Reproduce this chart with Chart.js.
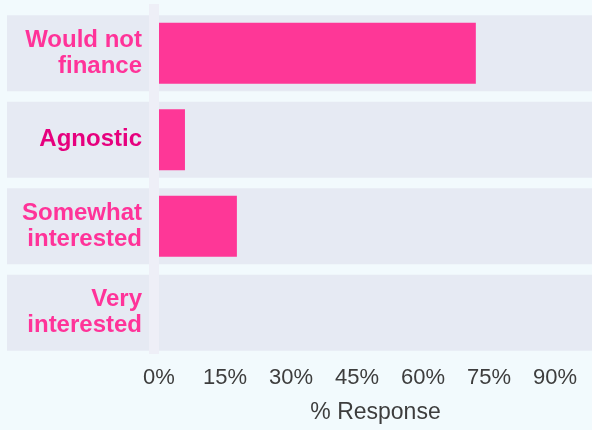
<!DOCTYPE html>
<html lang="en">
<head>
    <meta charset="UTF-8">
    <title>% Response</title>
    <style>
        html, body { margin: 0; padding: 0; background: #f2fafd; }
    </style>
</head>
<body>
    <canvas id="myChart" width="592" height="430"></canvas>
    <script src="https://cdn.jsdelivr.net/npm/chart.js"></script>
    <script>
        var categories = [['Would not', 'finance'], ['Agnostic'], ['Somewhat', 'interested'], ['Very', 'interested']];
        var responses = [72.0, 5.9, 17.7, 0];
        var tickValues = [0, 15, 30, 45, 60, 75, 90];
        var labelColors = ['#ff3399', '#e6007e', '#ff3399', '#ff3399'];

        // grey row bands behind each category, plus the light strip at the zero line
        var rowBands = {
            id: 'rowBands',
            beforeDraw: function(chart) {
                var ctx = chart.ctx;
                var y = chart.scales.y;
                ctx.save();
                ctx.fillStyle = '#e6eaf3';
                for (var i = 0; i < categories.length; i++) {
                    var yc = y.getPixelForValue(i);
                    ctx.fillRect(7, yc - 38, chart.width - 7, 76);
                }
                ctx.fillStyle = '#eeeff7';
                ctx.fillRect(149, 4, 10, 350);
                ctx.restore();
            }
        };

        var ctx = document.getElementById('myChart').getContext('2d');
        var myChart = new Chart(ctx, {
            type: 'bar',
            data: {
                labels: categories,
                datasets: [{
                    data: responses,
                    backgroundColor: '#fe3797',
                    borderWidth: 0,
                    inflateAmount: 0,
                    barThickness: 61
                }]
            },
            options: {
                indexAxis: 'y',
                responsive: false,
                animation: false,
                layout: { padding: { top: 10, right: 0, bottom: 0, left: 0 } },
                plugins: {
                    legend: { display: false },
                    tooltip: { enabled: false }
                },
                scales: {
                    x: {
                        min: 0,
                        max: 98.4,
                        border: { display: false },
                        grid: { display: false, drawTicks: false },
                        afterBuildTicks: function(axis) {
                            axis.ticks = tickValues.map(function(v) { return { value: v }; });
                        },
                        afterFit: function(axis) {
                            axis.height = 74;
                            axis.paddingLeft = 0;
                            axis.paddingRight = 0;
                        },
                        ticks: {
                            padding: 9,
                            maxRotation: 0,
                            autoSkip: false,
                            color: '#3d3d3d',
                            font: { family: 'Liberation Sans', size: 22 },
                            callback: function(v) { return v + '%'; }
                        },
                        title: {
                            display: true,
                            text: '% Response',
                            color: '#3d3d3d',
                            padding: { top: 0, bottom: 4 },
                            font: { family: 'Liberation Sans', size: 23 }
                        }
                    },
                    y: {
                        border: { display: false },
                        grid: { display: false, drawTicks: false },
                        afterFit: function(axis) {
                            axis.width = 159;
                            axis.paddingTop = 0;
                            axis.paddingBottom = 0;
                        },
                        ticks: {
                            padding: 17,
                            autoSkip: false,
                            color: function(c) { return labelColors[c.index]; },
                            font: { family: 'Liberation Sans', size: 24, weight: 'bold', lineHeight: 1.08 }
                        }
                    }
                }
            },
            plugins: [rowBands]
        });
    </script>
</body>
</html>
